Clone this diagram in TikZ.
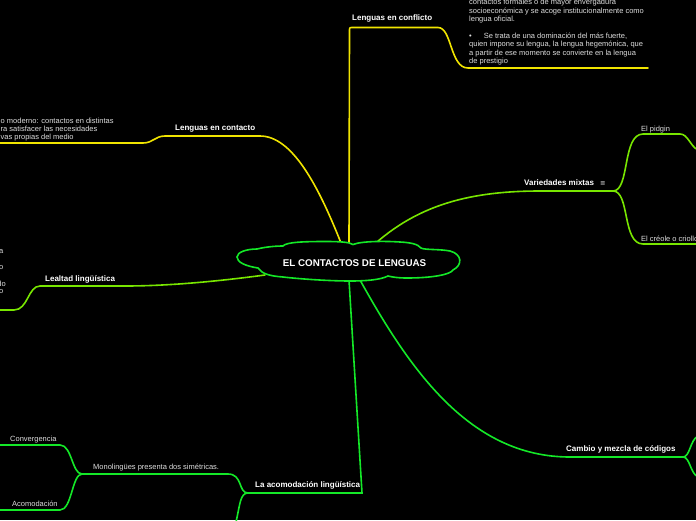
\documentclass[tikz,border=0pt]{standalone}
\usepackage{fontspec}
\setmainfont{Liberation Sans}
\newfontfamily\symfont{DejaVu Sans}
\usetikzlibrary{positioning,calc}
\definecolor{yline}{RGB}{240,228,0}
\definecolor{lline}{RGB}{120,230,0}
\definecolor{gline}{RGB}{20,232,40}
\definecolor{leaftext}{RGB}{222,222,222}

\begin{document}
\begin{tikzpicture}[x=1pt, y=-1pt, every node/.style={inner sep=0pt, text=leaftext, font=\fontsize{7.5}{8.4}\selectfont},
  topic/.style={text=white, font=\fontsize{8}{9.6}\selectfont\bfseries},
  link/.style={line width=1.6pt, line cap=round}]
  \fill[black] (0,0) rectangle (696,520);
  \useasboundingbox (0,0) rectangle (696,520);

  \coordinate (r-conf) at (349,244);
  \coordinate (r-cont) at (341,243);
  \coordinate (r-var) at (377,242);
  \coordinate (r-leal) at (265,275);
  \coordinate (r-acom) at (349,280);
  \coordinate (r-camb) at (360,280);
  \coordinate (v-j) at (613,191);
  \coordinate (a-end) at (362,493);
  \coordinate (a-j) at (248,493);
  \coordinate (m-j) at (82,474);
  \coordinate (c-j) at (683,457);

  \node[topic, anchor=base west] (conflicto) at (352,20) {Lenguas en conflicto};
  \node[anchor=north west, align=left] (conflictotxt) at (469,-1) {contactos formales o de mayor envergadura\\
    socioeconómica y se acoge institucionalmente como\\
    lengua oficial.\\[8.4pt]
    \textbullet\hspace{12pt}Se trata de una dominación del más fuerte,\\
    quien impone su lengua, la lengua hegemónica, que\\
    a partir de ese momento se convierte en la lengua\\
    de prestigio};
  \node[topic, anchor=base west] (contacto) at (175,130) {Lenguas en contacto};
  \node[anchor=north west, align=left] (contactotxt) at (0.5,117.5) {o moderno: contactos en distintas\\
    ra satisfacer las necesidades\\
    vas propias del medio};
  \node[topic, anchor=base west] (variedades) at (524,185.5) {Variedades mixtas\hspace{6pt}{\symfont\mdseries\fontsize{6.5}{7}\selectfont ≡}};
  \node[anchor=base west] (pidgin) at (641,131) {El pidgin};
  \node[anchor=base west] (creole) at (641,241) {El créole o criollo};
  \node[topic, anchor=base west] (lealtad) at (45,281) {Lealtad lingüística};
  \node[anchor=base east] (leal1) at (3.5,253) {a};
  \node[anchor=base east] (leal2) at (3.5,269) {o};
  \node[anchor=base east] (leal3) at (6,286) {do};
  \node[anchor=base east] (leal4) at (3.5,293) {o};
  \node[topic, anchor=base west] (acomodacion) at (255,487) {La acomodación lingüística};
  \node[anchor=base west] (monolingues) at (93,469) {Monolingües presenta dos simétricas.};
  \node[anchor=base west] (convergencia) at (10,441.5) {Convergencia};
  \node[anchor=base west] (acomleaf) at (12,506) {Acomodación};
  \node[topic, anchor=base west] (cambio) at (566,451) {Cambio y mezcla de códigos};

  \draw[link, yline] (r-conf) -- (349.5,31) .. controls (349.5,27.5) .. (353,27.5) -- (438,27.5)
    .. controls (452,27.5) and (450,68) .. (468,68) -- (648,68);
  \draw[link, yline] (r-cont) .. controls (318,185) and (292,136) .. (260,136) -- (165,136)
    .. controls (155,136) and (153,143) .. (143,143) -- (0,143);
  \draw[link, lline] (r-var) .. controls (420,205) and (470,191) .. (540,191) -- (v-j);
  \draw[link, lline] (v-j) .. controls (630,191) and (622,134) .. (643,134) -- (680,134)
    .. controls (688,134) and (690,146) .. (698,150);
  \draw[link, lline] (v-j) .. controls (630,191) and (622,244) .. (643,244) -- (698,244);
  \draw[link, lline] (r-leal) .. controls (220,281) and (170,286) .. (125,286) -- (40,286)
    .. controls (28,286) and (28,310) .. (14,310) -- (0,310);
  \draw[link, gline] (r-acom) -- (a-end) -- (a-j);
  \draw[link, gline] (a-j) .. controls (238,493) and (243,474) .. (228,474) -- (m-j);
  \draw[link, gline] (a-j) .. controls (240,493) and (240,505) .. (236,522);
  \draw[link, gline] (m-j) .. controls (72,474) and (72,445) .. (60,445) -- (0,445);
  \draw[link, gline] (m-j) .. controls (72,474) and (72,510) .. (60,510) -- (0,510);
  \draw[link, gline] (r-camb) .. controls (410,370) and (470,457) .. (570,457) -- (c-j);
  \draw[link, gline] (c-j) .. controls (690,457) and (690,440) .. (698,436);
  \draw[link, gline] (c-j) .. controls (690,457) and (690,473) .. (698,477);

  \filldraw[fill=black, draw=gline, line width=1.6pt] (237,257)
    .. controls (237,252) and (247,249) .. (257,249)
    .. controls (265,247) and (275,246) .. (283,246)
    .. controls (286,242) and (305,241.5) .. (325,241.5)
    .. controls (340,241.5) and (349,242) .. (353,244.5)
    .. controls (362,241) and (385,241) .. (400,242)
    .. controls (410,242.5) and (418,244) .. (421,248)
    .. controls (424,250) and (440,249) .. (450,251)
    .. controls (462,254) and (463,265) .. (453,270)
    .. controls (450,275) and (430,278) .. (407,278)
    .. controls (398,278) and (392,277) .. (388,276)
    .. controls (380,280) and (365,281) .. (350,281)
    .. controls (330,281) and (300,279) .. (283,277)
    .. controls (270,276) and (262,274) .. (258,268)
    .. controls (245,266) and (237,262) .. (237,257) -- cycle;
  \node[text=white, font=\fontsize{9.8}{11}\selectfont\bfseries] (root) at (354.5,263.5) {EL CONTACTOS DE LENGUAS};
\end{tikzpicture}
\end{document}
